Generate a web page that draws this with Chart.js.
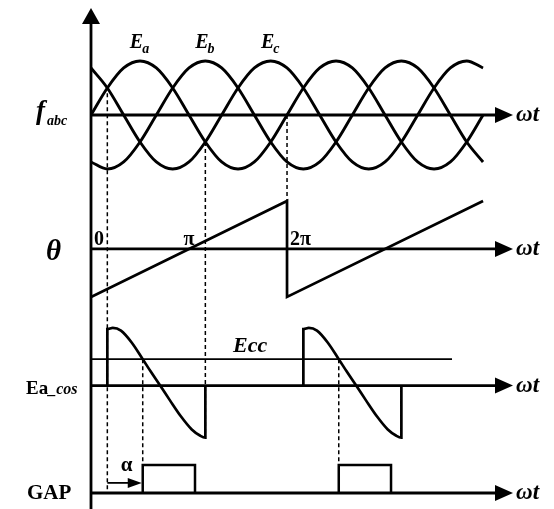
<!DOCTYPE html>
<html>
<head>
<meta charset="utf-8">
<script src="https://cdn.jsdelivr.net/npm/chart.js@4.4.0/dist/chart.umd.min.js"></script>
<style>
  body { margin: 0; background: #fff; }
  #wrap { width: 554px; height: 509px; }
</style>
</head>
<body>
<div id="wrap"><canvas id="diagrama"></canvas></div>
<script>
// wt in degrees, two periods of the three phases
var wt = [0, 30, 60, 90, 120, 150, 180, 210, 240, 270, 300, 330, 360,
          390, 420, 450, 480, 510, 540, 570, 600, 630, 660, 690, 720];
var ea = [0, 0.5, 0.87, 1, 0.87, 0.5, 0, -0.5, -0.87, -1, -0.87, -0.5, 0,
          0.5, 0.87, 1, 0.87, 0.5, 0, -0.5, -0.87, -1, -0.87, -0.5, 0];
var eb = [-0.87, -1, -0.87, -0.5, 0, 0.5, 0.87, 1, 0.87, 0.5, 0, -0.5, -0.87,
          -1, -0.87, -0.5, 0, 0.5, 0.87, 1, 0.87, 0.5, 0, -0.5, -0.87];
var ec = [0.87, 0.5, 0, -0.5, -0.87, -1, -0.87, -0.5, 0, 0.5, 0.87, 1, 0.87,
          0.5, 0, -0.5, -0.87, -1, -0.87, -0.5, 0, 0.5, 0.87, 1, 0.87];
var faseNomes = ['a', 'b', 'c'];
var fasePicos = [90, 210, 330];

// theta sawtooth (degrees)
var thetaWt = [0, 360, 360, 720];
var theta = [-180, 180, -180, 180];
var thetaMarcasWt = [0, 180, 360];
var thetaMarcas = ['0', '\u03c0', '2\u03c0'];

// Ea_cos pulses
var cosWt1 = [30, 30, 40, 55, 75, 95, 110, 127, 145, 165, 185, 200, 210, 210];
var cosWt2 = [390, 390, 400, 415, 435, 455, 470, 487, 505, 525, 545, 560, 570, 570];
var cosVal = [0, 1.03, 1.05, 1.0, 0.78, 0.48, 0.25, 0, -0.27, -0.56, -0.8, -0.91, -0.95, 0];
var ecc = 0.48;
var eccFim = 663;

// GAP pulses
var gapWt = [95, 95, 191, 191, 300, 455, 455, 551, 551];
var gapVal = [0, 1, 1, 0, null, 0, 1, 1, 0];
var alfaDe = 30, alfaAte = 95;

// dashed guides: wt, top [axis, value], bottom [axis, value]
var guiaWt = [30, 210, 360, 95, 455];
var guiaTopo = [['yF', 0.4], ['yF', -0.5], ['yF', 0], ['yCos', ecc], ['yCos', ecc]];
var guiaBase = [['yGap', 0], ['yCos', -0.95], ['yTheta', 180], ['yGap', 1], ['yGap', 1]];

function pontos(xs, ys) {
    return xs.map(function (x, i) { return { x: x, y: ys[i] }; });
}

function linha(data, eixo, largura, suave) {
    return {
        data: data,
        yAxisID: eixo,
        borderColor: '#000',
        borderWidth: largura,
        pointRadius: 0,
        fill: false,
        spanGaps: false,
        tension: 0,
        cubicInterpolationMode: suave ? 'monotone' : 'default'
    };
}

var SERIF = '"Liberation Serif", "Times New Roman", serif';

function seta(ctx, x1, y1, x2, y2, larg, comp) {
    var ang = Math.atan2(y2 - y1, x2 - x1);
    ctx.beginPath();
    ctx.moveTo(x2, y2);
    ctx.lineTo(x2 - comp * Math.cos(ang) + larg * Math.sin(ang), y2 - comp * Math.sin(ang) - larg * Math.cos(ang));
    ctx.lineTo(x2 - comp * Math.cos(ang) - larg * Math.sin(ang), y2 - comp * Math.sin(ang) + larg * Math.cos(ang));
    ctx.closePath();
    ctx.fill();
}

var desenho = {
    id: 'desenho',
    afterDatasetsDraw: function (chart) {
        var ctx = chart.ctx, area = chart.chartArea, s = chart.scales;
        var x0 = s.x.getPixelForValue(0);
        ctx.save();
        ctx.fillStyle = '#000';
        ctx.strokeStyle = '#000';

        // vertical axis
        ctx.lineWidth = 2.8;
        ctx.beginPath();
        ctx.moveTo(x0, area.bottom);
        ctx.lineTo(x0, area.top + 14);
        ctx.stroke();
        seta(ctx, x0, area.bottom, x0, area.top, 9, 16);

        // one wt axis per panel
        ['yF', 'yTheta', 'yCos', 'yGap'].forEach(function (id) {
            var y0 = s[id].getPixelForValue(0);
            ctx.lineWidth = 2.8;
            ctx.beginPath();
            ctx.moveTo(x0, y0);
            ctx.lineTo(area.right - 14, y0);
            ctx.stroke();
            seta(ctx, x0, y0, area.right, y0, 8, 18);
            ctx.font = 'italic bold 23px ' + SERIF;
            ctx.textAlign = 'left';
            ctx.fillText('\u03c9t', area.right + 3, y0 + 6);
        });

        // dashed guides
        ctx.lineWidth = 1.5;
        ctx.setLineDash([4, 3]);
        guiaWt.forEach(function (w, i) {
            var gx = s.x.getPixelForValue(w);
            ctx.beginPath();
            ctx.moveTo(gx, s[guiaTopo[i][0]].getPixelForValue(guiaTopo[i][1]));
            ctx.lineTo(gx, s[guiaBase[i][0]].getPixelForValue(guiaBase[i][1]));
            ctx.stroke();
        });
        ctx.setLineDash([]);

        // alpha arrow
        var ya = s.yGap.getPixelForValue(0.36);
        var xa1 = s.x.getPixelForValue(alfaDe), xa2 = s.x.getPixelForValue(alfaAte) - 1;
        ctx.lineWidth = 1.8;
        ctx.beginPath();
        ctx.moveTo(xa1, ya);
        ctx.lineTo(xa2 - 10, ya);
        ctx.stroke();
        seta(ctx, xa1, ya, xa2, ya, 5, 14);
        ctx.font = 'bold 21px ' + SERIF;
        ctx.textAlign = 'center';
        ctx.fillText('\u03b1', (xa1 + xa2) / 2 + 2, ya - 12);

        // phase names over the peaks
        faseNomes.forEach(function (n, i) {
            var cx = s.x.getPixelForValue(fasePicos[i]);
            var by = s.yF.getPixelForValue(1) - 13;
            ctx.textAlign = 'left';
            ctx.font = 'italic bold 20px ' + SERIF;
            var wE = ctx.measureText('E').width;
            ctx.font = 'italic bold 14px ' + SERIF;
            var wS = ctx.measureText(n).width;
            var left = cx - (wE + wS) / 2;
            ctx.font = 'italic bold 20px ' + SERIF;
            ctx.fillText('E', left, by);
            ctx.font = 'italic bold 14px ' + SERIF;
            ctx.fillText(n, left + wE - 1, by + 5);
        });

        // theta marks
        ctx.font = 'bold 20px ' + SERIF;
        var yt = s.yTheta.getPixelForValue(0) - 4;
        thetaMarcas.forEach(function (t, i) {
            var tx = s.x.getPixelForValue(thetaMarcasWt[i]);
            if (i === 1) {
                ctx.textAlign = 'center';
                ctx.fillText(t, tx, yt);
            } else {
                ctx.textAlign = 'left';
                ctx.fillText(t, tx + 3, yt);
            }
        });

        // Ecc
        ctx.font = 'italic bold 22px ' + SERIF;
        ctx.textAlign = 'left';
        ctx.fillText('Ecc', s.x.getPixelForValue(261), s.yCos.getPixelForValue(ecc) - 7);

        // panel names
        var yf = s.yF.getPixelForValue(0);
        ctx.font = 'italic bold 27px ' + SERIF;
        ctx.fillText('f', 36, yf + 4);
        ctx.font = 'italic bold 14px ' + SERIF;
        ctx.fillText('abc', 47, yf + 10);

        ctx.font = 'italic bold 29px ' + SERIF;
        ctx.fillText('\u03b8', 46, s.yTheta.getPixelForValue(0) + 11);

        var yc = s.yCos.getPixelForValue(0);
        ctx.font = 'bold 19px ' + SERIF;
        ctx.fillText('Ea', 26, yc + 8);
        var wEa = ctx.measureText('Ea').width;
        ctx.font = 'italic bold 16px ' + SERIF;
        ctx.fillText('_cos', 26 + wEa, yc + 8);

        ctx.font = 'bold 21px ' + SERIF;
        ctx.fillText('GAP', 27, s.yGap.getPixelForValue(0) + 6);

        ctx.restore();
    }
};

new Chart(document.getElementById('diagrama'), {
    type: 'line',
    data: {
        datasets: [
            linha(pontos(wt, ea), 'yF', 2.9, true),
            linha(pontos(wt, eb), 'yF', 2.9, true),
            linha(pontos(wt, ec), 'yF', 2.9, true),
            linha(pontos(thetaWt, theta), 'yTheta', 2.7, false),
            linha(pontos(cosWt1, cosVal), 'yCos', 2.7, true),
            linha(pontos(cosWt2, cosVal), 'yCos', 2.7, true),
            linha([{ x: 0, y: ecc }, { x: eccFim, y: ecc }], 'yCos', 1.7, false),
            linha(pontos(gapWt, gapVal), 'yGap', 2.5, false)
        ]
    },
    options: {
        responsive: true,
        maintainAspectRatio: false,
        animation: false,
        layout: { padding: { left: 91, right: 41, top: 8, bottom: 0 } },
        plugins: { legend: { display: false }, tooltip: { enabled: false } },
        scales: {
            x: { type: 'linear', min: 0, max: 775, display: false },
            yF: { type: 'linear', position: 'right', stack: 'painel', stackWeight: 181, min: -1.37, max: 1.98, display: false },
            yTheta: { type: 'linear', position: 'right', stack: 'painel', stackWeight: 129, min: -259, max: 225, display: false },
            yCos: { type: 'linear', position: 'right', stack: 'painel', stackWeight: 134, min: -1.21, max: 1.23, display: false },
            yGap: { type: 'linear', position: 'right', stack: 'painel', stackWeight: 57, min: -0.57, max: 1.46, display: false }
        }
    },
    plugins: [desenho]
});
</script>
</body>
</html>
